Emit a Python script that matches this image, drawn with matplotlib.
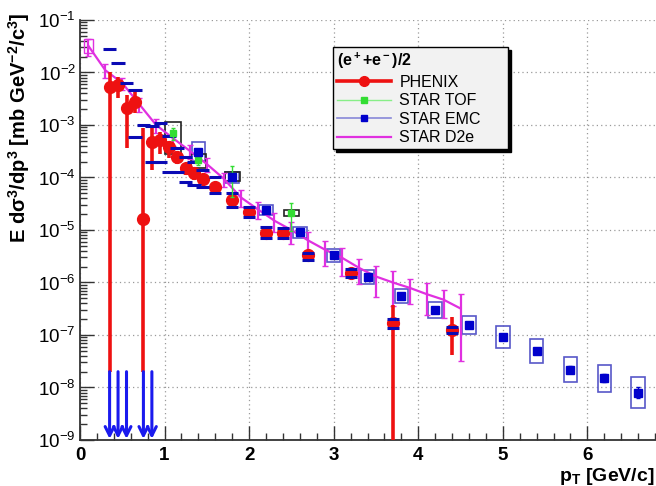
import matplotlib
matplotlib.use("Agg")
import matplotlib.pyplot as plt
import numpy as np
from matplotlib.lines import Line2D
from matplotlib.patches import Rectangle
from matplotlib.ticker import LogLocator, MultipleLocator, NullFormatter

plt.rcParams["font.family"] = ["Liberation Sans", "DejaVu Sans"]
plt.rcParams["mathtext.fontset"] = "custom"
plt.rcParams["mathtext.rm"] = "Liberation Sans:bold"
plt.rcParams["mathtext.it"] = "Liberation Sans:bold:italic"
plt.rcParams["mathtext.bf"] = "Liberation Sans:bold"
plt.rcParams["mathtext.default"] = "rm"

# PHENIX (e+ + e-)/2
phenix_pt = [0.35, 0.45, 0.55, 0.65, 0.75, 0.85, 0.95, 1.05, 1.15, 1.25, 1.35,
             1.45, 1.6, 1.8, 2.0, 2.2, 2.4, 2.7, 3.2, 3.7, 4.4]
phenix_y = [5.4e-3, 5.8e-3, 2.1e-3, 2.8e-3, 1.6e-5, 4.8e-4, 5.1e-4, 3.8e-4, 2.5e-4,
            1.5e-4, 1.2e-4, 9.5e-5, 6.6e-5, 3.7e-5, 2.2e-5, 8.9e-6, 8.7e-6, 3.3e-6,
            1.5e-6, 1.7e-7, 1.25e-7]
phenix_hi = [1.0e-2, 8.3e-3, 3.7e-3, 4.7e-3, 8.7e-4, 8.7e-4, 7.5e-4, 5.0e-4, 3.2e-4,
             1.9e-4, 1.5e-4, 1.15e-4, 7.8e-5, 4.3e-5, 2.5e-5, 1.05e-5, 1.0e-5, 4.0e-6,
             1.8e-6, 3.7e-7, 2.2e-7]
phenix_lo = [2e-8, 3.2e-3, 3.6e-4, 1.7e-3, 2e-8, 1.4e-4, 2.8e-4, 2.4e-4, 1.8e-4,
             1.1e-4, 9e-5, 7.5e-5, 5.4e-5, 3.1e-5, 1.9e-5, 7.5e-6, 7.5e-6, 2.7e-6,
             1.2e-6, 1e-10, 4.2e-8]
# systematic brackets (None = off scale)
phenix_sys_hi = [2.8e-2, 1.5e-2, 6.3e-3, 4.7e-3, 1.0e-3, 9.5e-4, 1.1e-3, 6.3e-4, 3.6e-4,
                 2.5e-4, 2.0e-4, 1.4e-4, 1.0e-4, 5.0e-5, 2.8e-5, 1.15e-5, 1.1e-5, 3.6e-6,
                 1.8e-6, 2.0e-7, 1.4e-7]
phenix_sys_lo = [None, None, None, 5.9e-4, None, 2.0e-4, 2.0e-4, 1.3e-4, 1.3e-4,
                 8.1e-5, 7.2e-5, 6.6e-5, 5.0e-5, 2.8e-5, 1.8e-5, 7.1e-6, 7.1e-6, 2.7e-6,
                 1.3e-6, 1.35e-7, 1.1e-7]
limit_pt = [0.35, 0.45, 0.55, 0.75, 0.85]
limit_top = 2e-8

# STAR TOF
tof_pt = [1.1, 1.4, 1.8, 2.5]
tof_y = [7.0e-4, 2.15e-4, 1.05e-4, 2.1e-5]
tof_err = [0.25, 0.2, 0.6, 0.55]
tof_sys = [0.6, 0.3, 0.2, 0.12]

# STAR EMC
emc_pt = [1.4, 1.8, 2.2, 2.6, 3.0, 3.4, 3.8, 4.2, 4.6, 5.0, 5.4, 5.8, 6.2, 6.6]
emc_y = [3.1e-4, 1.0e-4, 2.4e-5, 9.0e-6, 3.3e-6, 1.26e-6, 5.5e-7, 3.0e-7, 1.55e-7,
         9.0e-8, 5.0e-8, 2.2e-8, 1.5e-8, 8.0e-9]
emc_stat_dec = [0.03, 0.03, 0.03, 0.03, 0.03, 0.03, 0.04, 0.04, 0.04, 0.05, 0.05,
                0.06, 0.08, 0.1]
emc_sys_dec = [0.18, 0.1, 0.1, 0.1, 0.12, 0.13, 0.14, 0.16, 0.18, 0.21, 0.23, 0.24,
               0.26, 0.29]

# STAR D2e
d2e_pt = [0.1, 0.3, 0.5, 0.7, 0.9, 1.1, 1.3, 1.5, 1.7, 1.9, 2.1, 2.3, 2.5, 2.7,
          2.9, 3.1, 3.3, 3.5, 3.7, 3.9, 4.1, 4.3, 4.5]
d2e_y = [3.2e-2, 1.1e-2, 6.3e-3, 2.5e-3, 1.0e-3, 5.6e-4, 3.2e-4, 1.8e-4, 9.5e-5,
         4.2e-5, 2.5e-5, 1.5e-5, 1.0e-5, 6.3e-6, 4.2e-6, 2.95e-6, 1.9e-6, 1.3e-6,
         1.0e-6, 7.9e-7, 6.0e-7, 4.7e-7, 3.2e-7]
d2e_err = [0.35, 0.3, 0.25, 0.3, 0.3, 0.3, 0.3, 0.3, 0.3, 0.35, 0.35, 0.4, 0.45,
           0.45, 0.5, 0.55, 0.5, 0.6, 0.65, 0.5, 0.6, 0.55, 0.9]

RED = "#ee1111"
GREEN = "#33dd33"
BLUE = "#0000cc"
LAV = "#5858c8"
NAVY = "#0a0ab4"
MAG = "#e030e0"

fig = plt.figure(figsize=(6.56, 4.86), dpi=100)
ax = fig.add_axes([80 / 656, 46 / 486, 575 / 656, 420 / 486])
ax.set_yscale("log")
ax.set_xlim(0, 6.8)
ax.set_ylim(1e-9, 1e-1)

ax.grid(True, which="major", color="#9a9a9a", linestyle=(0, (1, 2.5)), lw=0.9)
ax.set_axisbelow(True)

# EMC systematic boxes
for x, y, d in zip(emc_pt, emc_y, emc_sys_dec):
    lo, hi = y * 10 ** (-d), y * 10 ** d
    ax.add_patch(Rectangle((x - 0.08, lo), 0.16, hi - lo, fill=False,
                           edgecolor=LAV, lw=1.2, zorder=3))
# TOF systematic boxes
for x, y, s in zip(tof_pt, tof_y, tof_sys):
    ax.add_patch(Rectangle((x - 0.09, y * (1 - s)), 0.18, 2 * s * y, fill=False,
                           edgecolor="#222222", lw=1.2, zorder=3))
# D2e first-point box
ax.add_patch(Rectangle((d2e_pt[0] - 0.05, d2e_y[0] * 0.72), 0.1, d2e_y[0] * 0.65,
                       fill=False, edgecolor=MAG, lw=1.0, zorder=3))

# PHENIX
yerr = [np.array(phenix_y) - np.array(phenix_lo), np.array(phenix_hi) - np.array(phenix_y)]
ax.errorbar(phenix_pt, phenix_y, yerr=yerr, fmt="o", color=RED, ms=8.5,
            elinewidth=2.6, capsize=0, zorder=5)
for x, hi, lo in zip(phenix_pt, phenix_sys_hi, phenix_sys_lo):
    w = 0.08 if x < 1.5 else 0.07
    for v in (hi, lo):
        if v is not None:
            ax.plot([x - w, x + w], [v, v], color=NAVY, lw=2.2, zorder=6,
                    solid_capstyle="butt")
for x in limit_pt:
    ax.annotate("", xy=(x, 1.05e-9), xytext=(x, limit_top),
                arrowprops=dict(arrowstyle="->", color="#1a1aee", lw=2.2,
                                mutation_scale=16, shrinkA=0, shrinkB=0),
                zorder=6)

# D2e
ax.errorbar(d2e_pt, d2e_y, yerr=np.array(d2e_err) * np.array(d2e_y), fmt="-",
            color=MAG, lw=1.6, elinewidth=1.6, capsize=2, zorder=4)

# TOF
ax.errorbar(tof_pt, tof_y, yerr=np.array(tof_err) * np.array(tof_y), fmt="s",
            color=GREEN, ms=5, elinewidth=1.0, capsize=1.5, zorder=6)

# EMC
emc_y_arr = np.array(emc_y)
emc_d = np.array(emc_stat_dec)
ax.errorbar(emc_pt, emc_y, yerr=[emc_y_arr * (1 - 10 ** -emc_d), emc_y_arr * (10 ** emc_d - 1)],
            fmt="s", color=BLUE, ms=5.5, elinewidth=1.0, capsize=1.5, zorder=7)

# axes styling
ax.yaxis.set_major_locator(LogLocator(base=10, numticks=20))
ax.yaxis.set_minor_locator(LogLocator(base=10, subs=np.arange(2, 10), numticks=100))
ax.yaxis.set_minor_formatter(NullFormatter())
ax.xaxis.set_major_locator(MultipleLocator(1))
ax.xaxis.set_minor_locator(MultipleLocator(0.2))
ax.tick_params(which="both", direction="in", top=False, right=False, width=1.0,
               color="#333333")
ax.tick_params(which="major", length=10)
ax.tick_params(which="minor", length=5)
ax.tick_params(axis="x", labelsize=13.5, pad=5)
ax.tick_params(axis="y", labelsize=13.5, pad=3)
for lab in ax.get_xticklabels():
    lab.set_fontweight("bold")
ax.spines["top"].set_visible(False)
ax.spines["right"].set_visible(False)
for side in ("left", "bottom"):
    ax.spines[side].set_color("#333333")
    ax.spines[side].set_linewidth(1.3)

ax.set_xlabel("p$_T$ [GeV/c]", fontsize=14, fontweight="bold")
ax.xaxis.set_label_coords(0.9985, -0.086)
ax.xaxis.label.set_horizontalalignment("right")
ax.xaxis.label.set_verticalalignment("center")
ax.set_ylabel(r"E d$\sigma^3$/dp$^3$ [mb GeV$^{-2}$/c$^3$]", fontsize=14.5,
              fontweight="bold")
ax.yaxis.set_label_coords(-0.083, 1.018)
ax.yaxis.label.set_horizontalalignment("right")

handles = [
    Line2D([], [], color=RED, lw=2.6, marker="o", ms=7),
    Line2D([], [], color="#88ee88", lw=1.0, marker="s", ms=5, mfc=GREEN, mec=GREEN),
    Line2D([], [], color="#8888d8", lw=1.2, marker="s", ms=5, mfc=BLUE, mec=BLUE),
    Line2D([], [], color=MAG, lw=1.6),
]
leg = ax.legend(handles, ["PHENIX", "STAR TOF", "STAR EMC", "STAR D2e"],
                title="(e$^+$+e$^-$)/2", loc="upper left",
                bbox_to_anchor=(0.44, 0.936, 0.304, 0.0), mode="expand",
                borderaxespad=0, fontsize=11.5, handlelength=3.4,
                labelspacing=0.22, borderpad=0.25, handletextpad=0.5,
                frameon=True, fancybox=False, edgecolor="black",
                facecolor="#f2f2f2", framealpha=1,
                shadow={"color": "black", "alpha": 1}, alignment="left",
                title_fontproperties={"size": 11.5, "weight": "bold"})
leg.get_frame().set_linewidth(1.0)
leg.set_zorder(10)

fig.savefig("out.png", dpi=100)
